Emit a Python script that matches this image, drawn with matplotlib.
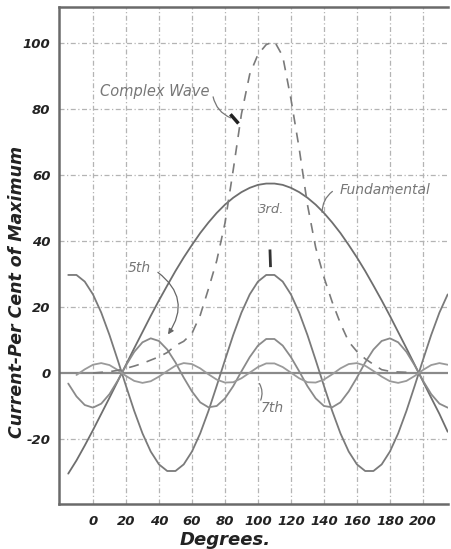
import matplotlib
matplotlib.use("Agg")
import matplotlib.pyplot as plt

# ---- data (degrees, percent of maximum) ----
deg = [-15, -10, -5, 0, 5, 10, 15, 20, 25, 30, 35, 40, 45, 50, 55, 60, 65, 70, 75, 80,
       85, 90, 95, 100, 105, 110, 115, 120, 125, 130, 135, 140, 145, 150, 155, 160,
       165, 170, 175, 180, 185, 190, 195, 200, 205, 210, 215]

fundamental = [-30.5, -26.5, -22.0, -17.3, -12.4, -7.5, -2.5, 2.5, 7.5, 12.4, 17.3, 22.0,
               26.5, 30.9, 35.0, 38.8, 42.4, 45.6, 48.5, 51.0, 53.1, 54.8, 56.1, 57.0,
               57.4, 57.4, 57.0, 56.1, 54.8, 53.1, 51.0, 48.5, 45.6, 42.4, 38.8, 35.0,
               30.9, 26.5, 22.0, 17.3, 12.4, 7.5, 2.5, -2.5, -7.5, -12.4, -17.8]

third = [29.7, 29.7, 27.7, 23.8, 18.3, 11.5, 3.9, -3.9, -11.5, -18.3, -23.8, -27.7,
         -29.7, -29.7, -27.7, -23.8, -18.3, -11.5, -3.9, 3.9, 11.5, 18.3, 23.8, 27.7,
         29.7, 29.7, 27.7, 23.8, 18.3, 11.5, 3.9, -3.9, -11.5, -18.3, -23.8, -27.7,
         -29.7, -29.7, -27.7, -23.8, -18.3, -11.5, -3.9, 3.9, 11.5, 18.3, 23.8]

fifth = [-3.2, -7.1, -9.7, -10.5, -9.3, -6.4, -2.3, 2.3, 6.4, 9.3, 10.5, 9.7, 7.1, 3.2,
         -1.4, -5.6, -8.9, -10.4, -10.0, -7.7, -4.0, 0.5, 4.8, 8.3, 10.3, 10.3, 8.3, 4.8,
         0.5, -4.0, -7.7, -10.0, -10.4, -8.9, -5.6, -1.4, 3.2, 7.1, 9.7, 10.5, 9.3, 6.4,
         2.3, -2.3, -6.4, -9.3, -10.5]

deg7 = deg[1:]
seventh = [-0.6, 1.1, 2.5, 3.0, 2.4, 0.9, -0.9, -2.4, -3.0, -2.5, -1.1, 0.6, 2.2, 3.0,
           2.7, 1.4, -0.4, -2.0, -2.9, -2.8, -1.6, 0.1, 1.8, 2.9, 2.9, 1.8, 0.1, -1.6,
           -2.8, -2.9, -2.0, -0.4, 1.4, 2.7, 3.0, 2.2, 0.6, -1.1, -2.5, -3.0, -2.4, -0.9,
           0.9, 2.4, 3.0, 2.5]

deg_c = [0, 5, 10, 15, 20, 25, 30, 35, 40, 45, 50, 55, 60, 65, 70, 75, 80, 85, 90, 95,
         100, 105, 110, 115, 120, 125, 130, 135, 140, 145, 150, 155, 160, 165, 170, 175,
         180, 185, 190, 195]
complex_wave = [0.0, 0.2, 0.4, 0.8, 1.4, 2.1, 2.9, 3.9, 4.9, 6.2, 8.3, 9.6, 12.0, 17.5,
                25.5, 34.0, 45.4, 61.5, 78.5, 90.5, 96.5, 99.5, 100.5, 96.0, 83.0, 68.0,
                51.0, 38.0, 29.0, 21.5, 15.0, 9.5, 6.5, 4.3, 2.6, 1.0, 0.5, 0.3, 0.2, 0.0]

xticks = [0, 20, 40, 60, 80, 100, 120, 140, 160, 180, 200]
yticks = [-20, 0, 20, 40, 60, 80, 100]

# ---- figure ----
fig = plt.figure(figsize=(4.51, 5.49), dpi=100)
ax = fig.add_axes([59 / 451, 1 - 504 / 549, (448 - 59) / 451, (504 - 7) / 549])
ax.set_xlim(-20.6, 215.2)
ax.set_ylim(-39.7, 110.9)

grid_kw = dict(color="#b4b4b4", lw=0.9, ls=(0, (4, 2, 1, 2)), zorder=1)
for x in xticks:
    ax.axvline(x, **grid_kw)
for y in yticks:
    if y != 0:
        ax.axhline(y, **grid_kw)
ax.axhline(0, color="#8a8a8a", lw=1.6, zorder=2)

line_kw = dict(lw=1.3, zorder=3, solid_capstyle="round")
ax.plot(deg, fundamental, color="#6e6e6e", **line_kw)
ax.plot(deg, third, color="#7a7a7a", **line_kw)
ax.plot(deg, fifth, color="#8a8a8a", **line_kw)
ax.plot(deg7, seventh, color="#9a9a9a", **line_kw)
ax.plot(deg_c, complex_wave, color="#7a7a7a", lw=1.2, ls=(0, (6, 5)), zorder=3)

for s in ["left", "bottom", "top"]:
    ax.spines[s].set_color("#6a6a6a")
    ax.spines[s].set_linewidth(1.8)
ax.spines["right"].set_visible(False)

ax.set_xticks(xticks)
ax.set_yticks(yticks)
ax.set_xticklabels([str(v) for v in xticks])
ax.set_yticklabels([str(v) for v in yticks])
ax.tick_params(axis="x", length=0, pad=8)
ax.tick_params(axis="y", length=0, pad=6)
for lab in ax.get_xticklabels() + ax.get_yticklabels():
    lab.set_fontstyle("italic")
    lab.set_fontweight("bold")
    lab.set_fontsize(9.5)
    lab.set_color("#222222")

fig.text(17 / 451, 1 - 292 / 549, "Current-Per Cent of Maximum", rotation=90,
         ha="center", va="center", fontsize=12.5, fontstyle="italic",
         fontweight="bold", color="#222222")
fig.text(225 / 451, 1 - 540 / 549, "Degrees.", ha="center", va="center",
         fontsize=13, fontstyle="italic", fontweight="bold", color="#222222")

note_kw = dict(fontstyle="italic", color="#777777", zorder=5)
ax.text(4.0, 85.2, "Complex Wave", fontsize=10.5, va="center", ha="left", **note_kw)
ax.annotate("", xy=(85.0, 77.0), xytext=(72.5, 84.5),
            arrowprops=dict(arrowstyle="-", color="#777777", lw=0.9,
                            connectionstyle="arc3,rad=0.3"))
ax.plot([84.0, 87.5], [78.0, 76.0], color="#222222", lw=2.5, zorder=5)

ax.text(149.5, 55.3, "Fundamental", fontsize=10, va="center", ha="left", **note_kw)
ax.annotate("", xy=(139.0, 47.8), xytext=(146.5, 55.5),
            arrowprops=dict(arrowstyle="-", color="#777777", lw=0.9,
                            connectionstyle="arc3,rad=0.3"))

ax.text(100.0, 49.4, "3rd.", fontsize=9.5, va="center", ha="left", **note_kw)
ax.plot([107.3, 107.6], [37.0, 32.5], color="#333333", lw=2.0, zorder=5)

ax.text(21.0, 31.8, "5th", fontsize=10, va="center", ha="left", **note_kw)
ax.annotate("", xy=(44.5, 11.0), xytext=(38.0, 31.0),
            arrowprops=dict(arrowstyle="-|>", color="#666666", lw=0.9,
                            mutation_scale=8,
                            connectionstyle="arc3,rad=-0.5"))

ax.text(101.5, -10.6, "7th", fontsize=10, va="center", ha="left", **note_kw)
ax.annotate("", xy=(100.0, -2.5), xytext=(101.0, -9.0),
            arrowprops=dict(arrowstyle="-", color="#777777", lw=0.9,
                            connectionstyle="arc3,rad=0.3"))

fig.savefig("out.png", dpi=100)
